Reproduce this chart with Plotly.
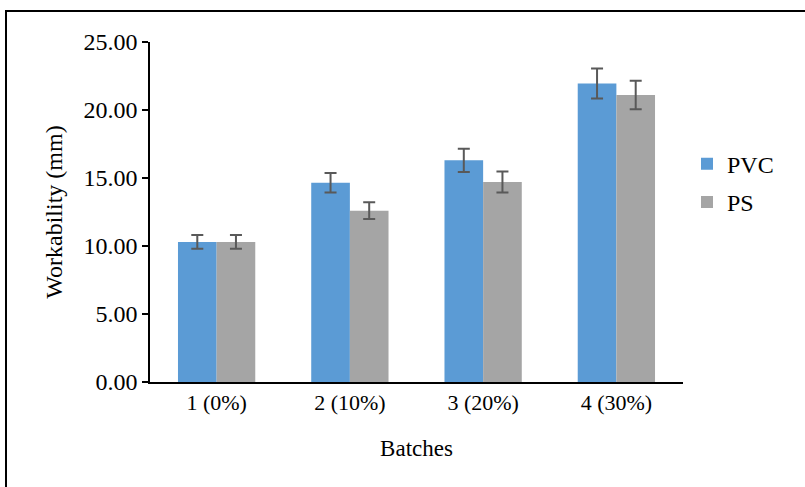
import plotly.graph_objects as go

batches = ["1 (0%)", "2 (10%)", "3 (20%)", "4 (30%)"]
pvc = [10.30, 14.65, 16.30, 21.95]
pvc_err = [0.50, 0.72, 0.85, 1.10]
ps = [10.30, 12.60, 14.70, 21.10]
ps_err = [0.50, 0.62, 0.77, 1.05]
y_ticks = [0, 5, 10, 15, 20, 25]
y_tick_labels = ["0.00", "5.00", "10.00", "15.00", "20.00", "25.00"]

W, H = 805, 487
L, R, T, B = 150, 122, 42, 105
font = "Liberation Serif, Times New Roman, serif"

fig = go.Figure()
fig.add_trace(go.Bar(
    name="PVC", x=batches, y=pvc, legendgroup="a",
    marker=dict(color="#5B9BD5", line=dict(width=0)),
    error_y=dict(type="data", array=pvc_err, color="#595959", thickness=2, width=6),
))
fig.add_trace(go.Bar(
    name="PS", x=batches, y=ps, legendgroup="b",
    marker=dict(color="#A5A5A5", line=dict(width=0)),
    error_y=dict(type="data", array=ps_err, color="#595959", thickness=2, width=6),
))

pw = W - L - R
ph = H - T - B
fig.add_shape(type="rect", xref="paper", yref="paper",
              x0=(6 - L) / pw, x1=(W + 20 - L) / pw,
              y0=-(B + 20) / ph, y1=(H - 11 - B) / ph,
              line=dict(color="black", width=2), fillcolor="rgba(0,0,0,0)")

fig.update_layout(
    width=W, height=H,
    margin=dict(l=L, r=R, t=T, b=B),
    paper_bgcolor="white", plot_bgcolor="white",
    barmode="group", bargap=0.42, bargroupgap=0,
    font=dict(family=font, size=23, color="black"),
    showlegend=True,
    legend=dict(x=1.0075, y=0.585, xanchor="left", yanchor="middle",
                font=dict(family=font, size=24, color="black"),
                traceorder="grouped", tracegroupgap=4, itemwidth=30),
    xaxis=dict(
        title=dict(text="Batches", font=dict(family=font, size=23), standoff=25),
        showline=True, linecolor="black", linewidth=2,
        ticks="", showgrid=False,
        tickfont=dict(family=font, size=22),
    ),
    yaxis=dict(
        title=dict(text="Workability (mm)", font=dict(family=font, size=24), standoff=14),
        range=[0, 25], tickvals=y_ticks, ticktext=y_tick_labels,
        showline=True, linecolor="black", linewidth=1.5,
        ticks="outside", ticklen=6, tickwidth=1.5, tickcolor="black",
        showgrid=False, zeroline=False,
        tickfont=dict(family=font, size=24),
    ),
)

fig.write_html("out.html", config={"displayModeBar": False},
               post_script="document.body.style.margin='0';")
